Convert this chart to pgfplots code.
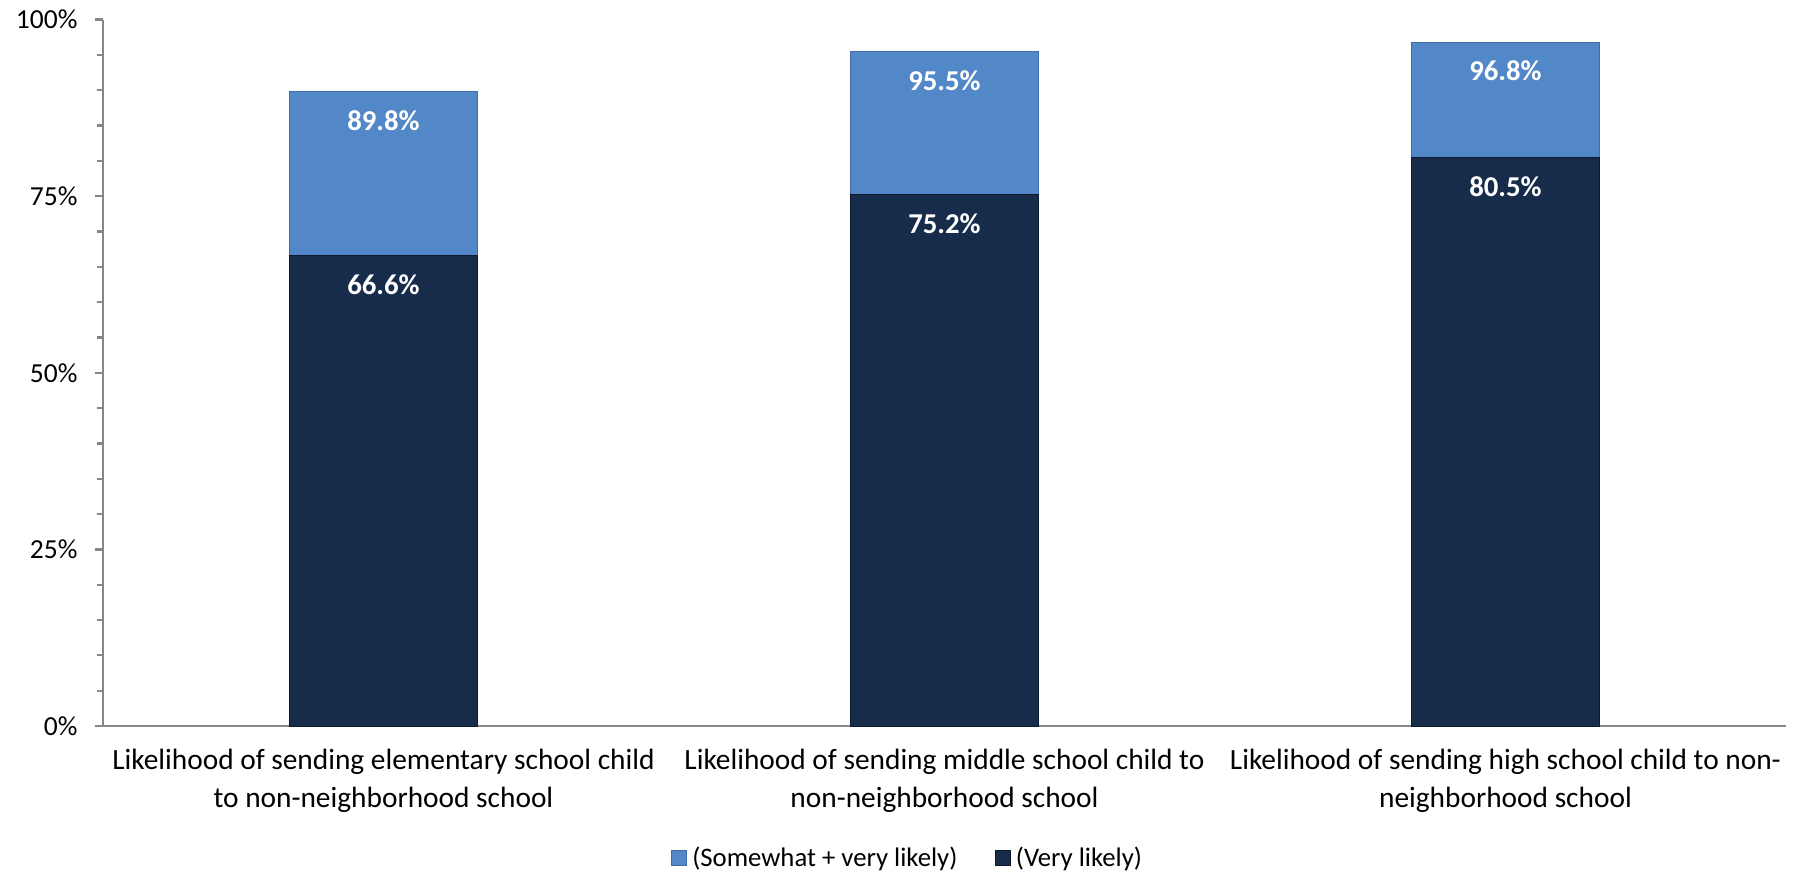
\documentclass[border=0pt]{standalone}
\usepackage{pgfplots}
\pgfplotsset{compat=1.18}
\usepackage{fontspec}
\setmainfont{Carlito}
\definecolor{lightbar}{HTML}{5388C8}
\definecolor{lightedge}{HTML}{3E6DA6}
\definecolor{darkbar}{HTML}{172B4A}
\definecolor{darkedge}{HTML}{0D1A2E}
\definecolor{axisgray}{HTML}{868686}
\begin{document}
\begin{tikzpicture}
\useasboundingbox (0,0) rectangle (720.4pt,349.2pt);
\begin{axis}[
  at={(41.2pt,58.8pt)}, anchor=south west,
  scale only axis, width=673.2pt, height=282.6pt,
  ybar, bar width=0.334,
  every axis plot/.append style={bar shift=0pt},
  xmin=-0.5, xmax=2.5, ymin=0, ymax=100,
  axis x line*=bottom, axis y line*=left,
  axis line style={draw=axisgray, line width=0.9pt, -},
  tick align=outside,
  xtick={0,1,2},
  xticklabels={{Likelihood of sending elementary school child\\to non-neighborhood school},
               {Likelihood of sending middle school child to\\non-neighborhood school},
               {Likelihood of sending high school child to non-\\neighborhood school}},
  x tick label style={align=center, font=\fontsize{11.75}{15.2}\selectfont, yshift=-2.5pt},
  xtick style={draw=none},
  extra x ticks={-0.5,0.5,1.5,2.5},
  extra x tick labels={},
  extra x tick style={tick style={draw=axisgray, line width=0.9pt}, major tick length=3.6pt},
  ytick={0,25,50,75,100},
  minor y tick num=4,
  yticklabel={\pgfmathprintnumber{\tick}\%},
  /pgf/number format/assume math mode=true,
  y tick label style={font=\fontsize{11}{13}\selectfont, xshift=-3.5pt},
  ytick style={draw=axisgray, line width=0.9pt},
  major tick length=3.2pt, minor tick length=2.4pt,
  nodes near coords,
  point meta=explicit symbolic,
  every node near coord/.append style={anchor=center, yshift=-11.6pt, text=white,
     font=\fontsize{11.5}{13}\selectfont\bfseries},
  legend columns=2,
  legend style={draw=none, at={(0.479,-0.187)}, anchor=center,
     font=\fontsize{10.7}{12}\selectfont, /tikz/every even column/.append style={column sep=13pt}},
  legend image code/.code={\fill[#1] (0pt,-3pt) rectangle (6pt,3pt);},
]
\addplot[fill=lightbar, draw=lightedge] coordinates {(0,89.8) [89.8\%] (1,95.5) [95.5\%] (2,96.8) [96.8\%]};
\addlegendentry{(Somewhat + very likely)}
\addplot[fill=darkbar, draw=darkedge] coordinates {(0,66.6) [66.6\%] (1,75.2) [75.2\%] (2,80.5) [80.5\%]};
\addlegendentry{(Very likely)}
\end{axis}
\end{tikzpicture}
\end{document}
